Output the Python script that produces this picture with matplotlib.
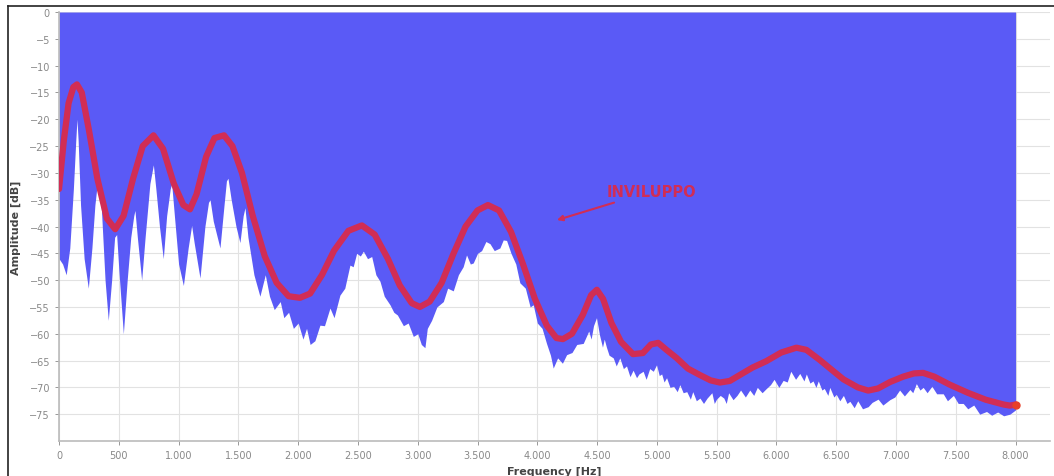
import matplotlib.pyplot as plt
from matplotlib.lines import Line2D

# spectrum (lower edge of the blue area) - Hz / dB
spec_hz = [0, 30, 60, 90, 120, 140, 150, 160, 180, 210, 245, 275, 300, 320, 335, 355, 385, 412,
           440, 465, 482, 500, 538, 570, 600, 625, 635, 655, 691, 720, 760, 789, 810, 840, 872,
           900, 930, 942, 965, 1000, 1040, 1080, 1109, 1130, 1179, 1220, 1250, 1263, 1290, 1346,
           1380, 1400, 1413, 1440, 1480, 1513, 1540, 1555, 1580, 1630, 1680, 1725, 1760, 1800,
           1850, 1880, 1920, 1960, 2000, 2040, 2070, 2100, 2140, 2182, 2220, 2266, 2300, 2349,
           2390, 2433, 2460, 2489, 2520, 2545, 2580, 2615, 2650, 2684, 2720, 2768, 2800, 2830,
           2880, 2920, 2963, 3000, 3030, 3060, 3080, 3116, 3160, 3214, 3250, 3297, 3340, 3380,
           3408, 3440, 3464, 3500, 3534, 3570, 3604, 3640, 3687, 3715, 3743, 3780, 3820, 3854,
           3900, 3940, 3966, 4000, 4040, 4077, 4110, 4133, 4170, 4210, 4245, 4290, 4330, 4384,
           4430, 4450, 4470, 4495, 4520, 4545, 4560, 4578, 4600, 4635, 4660, 4690, 4720, 4746,
           4775, 4801, 4830, 4850, 4885, 4910, 4940, 4970, 4997, 5020, 5040, 5060, 5081, 5110,
           5140, 5170, 5192, 5220, 5250, 5280, 5300, 5330, 5360, 5390, 5420, 5460, 5480, 5499,
           5530, 5560, 5580, 5600, 5637, 5670, 5700, 5740, 5777, 5810, 5840, 5880, 5916, 5950,
           5980, 6020, 6056, 6090, 6120, 6160, 6195, 6230, 6250, 6280, 6306, 6330, 6350, 6380,
           6400, 6430, 6446, 6480, 6500, 6530, 6560, 6590, 6614, 6650, 6680, 6720, 6767, 6800,
           6850, 6890, 6948, 6990, 7030, 7070, 7116, 7140, 7170, 7200, 7227, 7260, 7300, 7340,
           7395, 7430, 7480, 7520, 7562, 7600, 7650, 7700, 7757, 7800, 7850, 7900, 7952, 8000]
spec_db = [-46, -47, -49, -44, -33, -24, -20, -24, -36, -46, -51.5, -44, -36, -32, -31.5, -37, -50,
           -57.5, -50, -42, -41.5, -48, -60, -50, -42, -38, -37, -42, -50, -42, -32, -28.5, -33,
           -40, -46, -38, -33, -32, -38, -47, -51, -44, -39.8, -43, -49.6, -40, -35.5, -35, -39,
           -44, -36, -31.5, -31, -35, -40, -43, -38, -36.5, -42, -49, -53, -49, -53, -55.5,
           -54, -57, -56, -59, -58, -61, -59, -62, -61.3, -58.4, -58.5, -55.2, -57, -52.8,
           -51.5, -47.2, -47.5, -45, -45.5, -44.6, -46, -45.6, -49, -50.2, -53, -54.6, -56, -56.5,
           -58.5, -58, -60.5, -60, -62, -62.6, -59, -57.5, -55, -54, -51.5, -52, -49, -47.5,
           -45.3, -47, -46.8, -45, -44.5, -42.8, -43.2, -44.5, -44, -42.5, -42.6, -45, -47, -50.5,
           -51.5, -55, -54.6, -58, -59, -61.8, -64, -66.4, -64.5, -65.5, -63.9, -63.5, -62, -61.8,
           -59.5, -61, -58.5, -57, -60.2, -62.5, -61, -62.5, -64, -64.5, -66, -64.5, -66.5, -66,
           -68, -66.8, -68.2, -67.5, -67, -68.5, -66.5, -67, -65.8, -67.8, -67.5, -69, -68.2, -70,
           -69.8, -70.8, -69.5, -71, -70.8, -72.2, -70.8, -72.5, -72, -73, -72, -71, -73, -72.2,
           -71.5, -72, -73, -71, -72.3, -71.5, -70.5, -71.8, -70.5, -71.5, -70, -71, -70.2, -69.5,
           -68.5, -70, -68.7, -69, -67, -68.5, -67.4, -68.8, -67.5, -69.2, -68.8, -70, -68.8, -70.5,
           -70.2, -71.5, -70, -71.8, -71.3, -72.5, -71.5, -73, -72.6, -73.8, -72.5, -74, -73.6, -72.8,
           -72.2, -73.3, -72.3, -71.8, -70.5, -71.6, -70.4, -71, -69.3, -70.5, -70, -71, -69.8, -71.2,
           -71.2, -72.5, -71.5, -73, -73, -74, -73.3, -75, -74.5, -75.2, -74.6, -75.3, -75, -74.2]

# envelope (red curve)
env_hz = [0, 40, 80, 120, 150, 190, 250, 320, 400, 470, 540, 620, 700, 790, 870, 960, 1040, 1095,
          1150, 1230, 1300, 1380, 1450, 1530, 1620, 1720, 1820, 1920, 2015, 2100, 2200, 2300, 2420,
          2533, 2640, 2750, 2850, 2950, 3018, 3100, 3200, 3300, 3400, 3500, 3587, 3680, 3780, 3880,
          3980, 4080, 4160, 4214, 4290, 4380, 4450, 4498, 4550, 4620, 4700, 4800, 4883, 4950, 5011,
          5080, 5164, 5260, 5360, 5450, 5527, 5610, 5693, 5800, 5916, 6040, 6167, 6250, 6363, 6450,
          6560, 6680, 6767, 6850, 6950, 7060, 7150, 7227, 7320, 7450, 7600, 7750, 7900, 7952, 8000]
env_db = [-33, -24, -17, -14, -13.5, -15, -22, -31, -38.5, -40.5, -38, -31, -25, -23, -25.5, -32, -36,
          -36.8, -34, -27, -23.5, -23, -25, -30, -38, -45.5, -50.5, -53, -53.3, -52.5, -49, -44.5,
          -40.8, -39.8, -41.5, -46, -51, -54.3, -55, -54, -50.5, -45, -40, -37, -36, -37, -41, -47,
          -53.5, -58.5, -60.8, -61, -60, -56.5, -52.8, -51.8, -53.5, -58, -61.5, -63.8, -63.6, -62,
          -61.7, -63, -64.5, -66.5, -67.7, -68.7, -69.1, -68.8, -67.7, -66.3, -65.1, -63.5, -62.6,
          -63, -64.9, -66.5, -68.5, -70, -70.6, -70.2, -69, -68, -67.4, -67.3, -68, -69.5, -71,
          -72.3, -73.2, -73.4, -73.2]

x_ticks = list(range(0, 8001, 500))
x_labels = ['0', '500', '1.000', '1.500', '2.000', '2.500', '3.000', '3.500', '4.000',
            '4.500', '5.000', '5.500', '6.000', '6.500', '7.000', '7.500', '8.000']
y_ticks = list(range(0, -76, -5))

fig = plt.figure(figsize=(10.54, 4.77), dpi=100)
ax = fig.add_axes([0.056, 0.0734, 0.94, 0.8993])

ax.fill_between(spec_hz, 0, spec_db, color='#5a5af6', linewidth=0, zorder=2)
ax.plot(env_hz, env_db, color='#d12d55', linewidth=4.5, solid_capstyle='round', zorder=3)
ax.plot([env_hz[-1]], [env_db[-1]], 'o', color='#e8402a', markersize=5, zorder=4)

ax.annotate('INVILUPPO', xy=(4164, -38.8), xytext=(4582, -33.4),
            color='#d12d55', fontsize=10.5, fontweight='bold', va='center', ha='left',
            arrowprops=dict(arrowstyle='-|>', color='#d12d55', lw=1.5,
                            mutation_scale=8, shrinkA=3, shrinkB=0),
            zorder=5)

ax.set_xlim(0, 8286)
ax.set_ylim(-80, 0)
ax.set_xticks(x_ticks)
ax.set_xticklabels(x_labels)
ax.set_yticks(y_ticks)
ax.tick_params(labelsize=7, colors='#888888', length=3, width=0.6)
ax.grid(True, color='#e2e2e2', linewidth=0.8, zorder=1)
ax.set_axisbelow(True)
for s in ['top', 'right']:
    ax.spines[s].set_visible(False)
for s in ['left', 'bottom']:
    ax.spines[s].set_color('#bbbbbb')
    ax.spines[s].set_linewidth(1.2)

ax.set_xlabel('Frequency [Hz]', fontsize=8, fontweight='bold', color='#444444', labelpad=4)
ax.set_ylabel('Amplitude [dB]', fontsize=8, fontweight='bold', color='#444444', labelpad=6)

# outer frame of the screenshot
fig.add_artist(Line2D([8 / 1054, 1], [1 - 7 / 477, 1 - 7 / 477], color='#222222', lw=1.2))
fig.add_artist(Line2D([8 / 1054, 8 / 1054], [0, 1 - 7 / 477], color='#222222', lw=1.2))

fig.savefig('out.png', dpi=100)
